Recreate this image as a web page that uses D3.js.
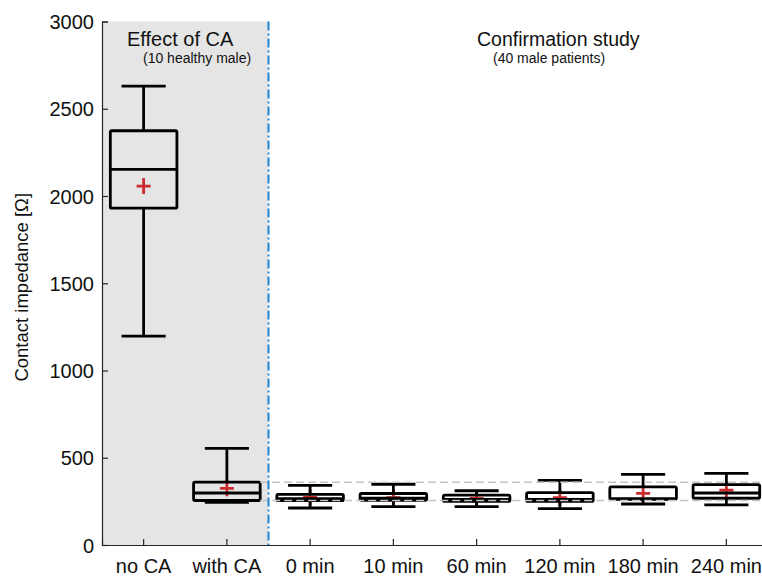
<!DOCTYPE html>
<html>
<head>
<meta charset="utf-8">
<script src="https://cdn.jsdelivr.net/npm/d3@7"></script>
<style>
  html, body { margin: 0; padding: 0; background: #fff; }
  svg { display: block; font-family: "Liberation Sans", Arial, sans-serif; }
</style>
</head>
<body>
<svg id="chart" width="762" height="577"></svg>
<script>
// ---- data ----
const categories   = ["no CA", "with CA", "0 min", "10 min", "60 min", "120 min", "180 min", "240 min"];
const lowerWhisker = [1197, 245, 212, 220, 220, 208, 235, 230];
const q1           = [1930, 255, 254, 256, 250, 250, 262, 268];
const median       = [2153, 298, 265, 268, 262, 262, 265, 298];
const q3           = [2374, 360, 290, 295, 286, 300, 333, 346];
const upperWhisker = [2630, 554, 342, 348, 311, 370, 405, 411];
const mean         = [2057, 325, 273, 272, 267, 271, 296, 315];
const yTicks       = [0, 500, 1000, 1500, 2000, 2500, 3000];
const yLabel       = "Contact impedance [Ω]";
const leftTitle    = "Effect of CA";
const leftSub      = "(10 healthy male)";
const rightTitle   = "Confirmation study";
const rightSub     = "(40 male patients)";
const nEffect      = 2; // number of categories in the "Effect of CA" section
const refIndex     = 1; // "with CA" quartiles used as reference lines

const svg = d3.select("#chart");
const x = d3.scaleBand().domain(categories).range([102, 768]).padding(0);
const y = d3.scaleLinear().domain([0, 3000]).range([545, 21.5]);
const bw = x.bandwidth();
const cx = c => x(c) + bw / 2;

// shaded "Effect of CA" region
svg.append("rect")
  .attr("x", x(categories[0]))
  .attr("y", y(3000))
  .attr("width", x(categories[nEffect - 1]) + bw - x(categories[0]))
  .attr("height", y(0) - y(3000))
  .attr("fill", "#e5e5e5");

const axisColor = "#262626";

// y axis
const yAxis = svg.append("g").attr("transform", `translate(${x.range()[0]},0)`)
  .call(d3.axisLeft(y).tickValues(yTicks).tickSize(-6).tickPadding(8).tickFormat(d3.format("d")));
yAxis.select(".domain").attr("stroke", axisColor).attr("stroke-width", 1.2);
yAxis.selectAll(".tick line").attr("stroke", axisColor).attr("stroke-width", 1.2);
yAxis.selectAll(".tick text").attr("font-size", 20).attr("fill", "#111")
  .attr("font-family", "Liberation Sans, Arial, sans-serif").attr("x", -8).attr("dy", "0.36em");

// x axis
const xAxis = svg.append("g").attr("transform", `translate(0,${y(0)})`)
  .call(d3.axisBottom(x).tickSize(-6).tickPadding(14));
xAxis.select(".domain").attr("stroke", axisColor).attr("stroke-width", 1.2);
xAxis.selectAll(".tick line").attr("stroke", axisColor).attr("stroke-width", 1.2);
xAxis.selectAll(".tick text").attr("font-size", 20).attr("fill", "#111")
  .attr("font-family", "Liberation Sans, Arial, sans-serif");

// y label
svg.append("text")
  .attr("transform", `translate(28,${y(1500) + 4}) rotate(-90)`)
  .attr("text-anchor", "middle")
  .attr("font-size", 18.5).attr("fill", "#111")
  .text(yLabel);

// boxes
const data = categories.map((c, i) => ({
  c, lw: lowerWhisker[i], q1: q1[i], med: median[i], q3: q3[i], uw: upperWhisker[i], mean: mean[i]
}));
const boxW = bw * 0.8;
const capW = bw * 0.53;
const lineW = 2.8;

const g = svg.append("g");
// mean markers (drawn under box lines)
const plus = 7;
data.forEach(d => {
  const px = cx(d.c), py = y(d.mean);
  g.append("path")
    .attr("d", `M${px - plus},${py}H${px + plus}M${px},${py - plus - 1}V${py + plus + 1}`)
    .attr("stroke", "#cc2b2e").attr("stroke-width", 2.8).attr("fill", "none");
});
data.forEach(d => {
  const px = cx(d.c);
  const st = sel => sel.attr("stroke", "#000").attr("stroke-width", lineW).attr("fill", "none")
    .attr("stroke-linejoin", "round").attr("stroke-linecap", "butt");
  // whiskers
  st(g.append("line").attr("x1", px).attr("x2", px).attr("y1", y(d.q3)).attr("y2", y(d.uw)));
  st(g.append("line").attr("x1", px).attr("x2", px).attr("y1", y(d.q1)).attr("y2", y(d.lw)));
  // caps
  st(g.append("line").attr("x1", px - capW / 2).attr("x2", px + capW / 2).attr("y1", y(d.uw)).attr("y2", y(d.uw)));
  st(g.append("line").attr("x1", px - capW / 2).attr("x2", px + capW / 2).attr("y1", y(d.lw)).attr("y2", y(d.lw)));
  // box
  st(g.append("rect").attr("x", px - boxW / 2).attr("width", boxW)
    .attr("y", y(d.q3)).attr("height", y(d.q1) - y(d.q3)).attr("rx", 1.5));
  // median
  st(g.append("line").attr("x1", px - boxW / 2).attr("x2", px + boxW / 2).attr("y1", y(d.med)).attr("y2", y(d.med)));
});

// reference dashed lines (with CA quartiles)
const refStart = cx(categories[refIndex]) + boxW / 2;
[q3[refIndex], q1[refIndex]].forEach(v => {
  svg.append("line")
    .attr("x1", refStart).attr("x2", 770)
    .attr("y1", y(v)).attr("y2", y(v))
    .attr("stroke", "#c4c4c4").attr("stroke-width", 1.5).attr("stroke-dasharray", "8,4");
});

// separator line
const sepX = x(categories[nEffect - 1]) + bw;
svg.append("line")
  .attr("x1", sepX).attr("x2", sepX).attr("y1", y(3000)).attr("y2", y(0))
  .attr("stroke", "#1f86d4").attr("stroke-width", 2)
  .attr("stroke-dasharray", "9,3,2,3");

// section titles
svg.append("text").attr("x", 127).attr("y", 46).attr("font-size", 20).attr("fill", "#111").text(leftTitle);
svg.append("text").attr("x", 143).attr("y", 63).attr("font-size", 14).attr("fill", "#111").text(leftSub);
svg.append("text").attr("x", 477).attr("y", 46).attr("font-size", 19.5).attr("fill", "#111").text(rightTitle);
svg.append("text").attr("x", 493).attr("y", 63).attr("font-size", 14).attr("fill", "#111").text(rightSub);
</script>
</body>
</html>
